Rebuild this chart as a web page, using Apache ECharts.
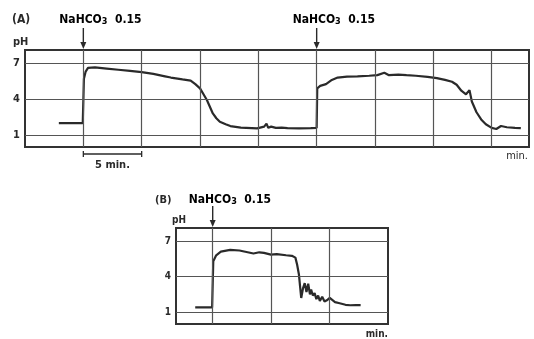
<!DOCTYPE html>
<html>
<head>
<meta charset="utf-8">
<script src="https://cdn.jsdelivr.net/npm/echarts@6/dist/echarts.min.js"></script>
<style>
html,body{margin:0;padding:0;background:#fff;}
#chart{width:534px;height:339px;}
</style>
</head>
<body>
<div id="chart"></div>
<script>
// (A) two NaHCO3 additions, time in min from the first addition
const timeA = [-2.1, -1, -0.05, 0.05, 0.2, 0.4, 1.0, 2.0, 3.0, 4.0, 5.0, 6.0, 7.0, 7.5, 8.5, 9.2, 9.6, 10.0, 10.3, 10.6, 11.1, 11.4, 11.7, 12.2, 12.6, 13.5, 14.9, 15.5, 15.7, 15.85, 16.1, 16.5, 17.0, 17.5, 18.5, 19.5, 20.0,
    20.05, 20.3, 20.8, 21.3, 21.8, 22.6, 23.5, 24.5, 25.2, 25.8, 26.2, 27.0, 27.7, 28.5, 29.5, 30.3, 31.0, 31.6, 32.0, 32.4, 32.8, 33.1, 33.3, 33.7, 34.1, 34.5, 35.0, 35.4, 35.8, 36.3, 37.0, 37.5];
const phA = [2.0, 2.0, 2.0, 5.7, 6.3, 6.6, 6.65, 6.55, 6.45, 6.35, 6.25, 6.1, 5.9, 5.8, 5.65, 5.55, 5.25, 4.9, 4.4, 3.9, 2.8, 2.4, 2.1, 1.9, 1.75, 1.62, 1.55, 1.7, 1.95, 1.6, 1.7, 1.6, 1.62, 1.58, 1.55, 1.57, 1.6,
    4.9, 5.1, 5.25, 5.6, 5.8, 5.88, 5.9, 5.95, 6.0, 6.2, 6.0, 6.05, 6.0, 5.95, 5.85, 5.75, 5.6, 5.45, 5.2, 4.7, 4.4, 4.75, 3.8, 2.9, 2.3, 1.9, 1.6, 1.5, 1.75, 1.65, 1.6, 1.58];

// (B) single addition
const timeB = [-1.5, -0.05, 0.05, 0.3, 0.7, 1.5, 2.3, 2.8, 3.5, 4.0, 4.4, 5.0, 5.5, 6.3, 6.8, 7.1, 7.25, 7.4, 7.5, 7.6, 7.75, 7.9, 8.05, 8.2, 8.35, 8.45, 8.6, 8.75, 8.9, 9.05, 9.2, 9.4, 9.6, 9.8, 10.05, 10.5, 10.9, 11.4, 11.8, 12.3, 12.7];
const phB = [1.4, 1.4, 5.3, 5.8, 6.1, 6.25, 6.2, 6.1, 5.95, 6.05, 6.0, 5.85, 5.9, 5.8, 5.75, 5.6, 5.0, 4.2, 3.2, 2.2, 3.0, 3.45, 2.7, 3.4, 2.5, 2.9, 2.4, 2.6, 2.1, 2.4, 1.95, 2.3, 1.9, 2.0, 2.2, 1.85, 1.75, 1.62, 1.58, 1.6, 1.6];

const injectA = [0, 20];
const injectB = [0];
const phTicks = [1, 4, 7];
const gridTimesA = [0, 5, 10, 15, 20, 25, 30, 35];
const gridTimesB = [0, 5, 10];
const addLabel = "NaHCO";
const addDose = "0.15";

const FONT = "'Liberation Sans Narrow', 'DejaVu Sans Condensed', sans-serif";
const INK = "#2a2a2a";

function zip(xs, ys){
    return xs.map((x, i) => [x, ys[i]]);
}

function gridMarks(times){
    return times.map(t => ({xAxis: t})).concat(phTicks.map(v => ({yAxis: v})));
}

function trace(idx, xs, ys, times){
    return {
        type: "line",
        xAxisIndex: idx,
        yAxisIndex: idx,
        data: zip(xs, ys),
        showSymbol: false,
        lineStyle: {color: INK, width: 2.2},
        markLine: {
            silent: true,
            symbol: "none",
            label: {show: false},
            lineStyle: {color: "#555", width: 1.2, type: "solid"},
            data: gridMarks(times)
        },
        z: 3
    };
}

function yAxisOf(idx, size){
    return {
        gridIndex: idx,
        type: "value",
        min: 0,
        max: 8.1,
        axisLine: {show: false},
        axisTick: {show: false},
        splitLine: {show: false},
        axisLabel: {
            customValues: phTicks,
            margin: 5,
            color: INK,
            fontFamily: FONT,
            fontWeight: "bold",
            fontSize: size
        }
    };
}

function xAxisOf(idx, min, max){
    return {
        gridIndex: idx,
        type: "value",
        min: min,
        max: max,
        axisLine: {show: false},
        axisTick: {show: false},
        axisLabel: {show: false},
        splitLine: {show: false}
    };
}

const chart = echarts.init(document.getElementById("chart"));

chart.setOption({
    animation: false,
    backgroundColor: "#fff",
    grid: [
        {left: 25, top: 50, width: 504, height: 97, show: true, borderColor: "#333", borderWidth: 2},
        {left: 176, top: 228, width: 212, height: 96, show: true, borderColor: "#333", borderWidth: 2}
    ],
    xAxis: [xAxisOf(0, -5, 38.2), xAxisOf(1, -3.15, 15.05)],
    yAxis: [yAxisOf(0, 11), yAxisOf(1, 10)],
    series: [
        trace(0, timeA, phA, gridTimesA),
        trace(1, timeB, phB, gridTimesB)
    ]
});

function txt(x, y, s, size, bold, align){
    return {
        type: "text",
        x: x, y: y,
        style: {
            text: s,
            fill: INK,
            font: (bold ? "bold " : "") + size + "px " + FONT,
            textAlign: align || "left",
            textVerticalAlign: "middle"
        }
    };
}

function doseLabel(x, y, size){
    return {
        type: "text",
        x: x, y: y,
        style: {
            text: "{a|" + addLabel + "}{s|3}{a|  " + addDose + "}",
            textVerticalAlign: "middle",
            rich: {
                a: {fontFamily: FONT, fontWeight: "bold", fontSize: size, color: INK},
                s: {fontFamily: FONT, fontWeight: "bold", fontSize: size - 3, color: INK, padding: [3, 0, 0, 0]}
            }
        }
    };
}

function arrow(x, yTop){
    return [
        {type: "line", shape: {x1: x, y1: yTop - 22, x2: x, y2: yTop - 4}, style: {stroke: INK, lineWidth: 1.4}},
        {type: "polygon", shape: {points: [[x - 3, yTop - 8], [x + 3, yTop - 8], [x, yTop - 1]]}, style: {fill: INK}}
    ];
}

const g = [];
const topA = chart.convertToPixel({gridIndex: 0}, [0, 8.1])[1];
const botA = chart.convertToPixel({gridIndex: 0}, [0, 0])[1];
const rightA = chart.convertToPixel({gridIndex: 0}, [38.2, 0])[0];
const topB = chart.convertToPixel({gridIndex: 1}, [0, 8.1])[1];
const botB = chart.convertToPixel({gridIndex: 1}, [0, 0])[1];
const rightB = chart.convertToPixel({gridIndex: 1}, [15.05, 0])[0];

injectA.forEach(t => {
    const x = chart.convertToPixel({gridIndex: 0}, [t, 0])[0];
    g.push(...arrow(x, topA));
    g.push(doseLabel(x - 24, topA - 30, 12));
});
injectB.forEach(t => {
    const x = chart.convertToPixel({gridIndex: 1}, [t, 0])[0];
    g.push(...arrow(x, topB));
    g.push(doseLabel(x - 24, topB - 28, 12));
});

g.push(txt(12, 20, "(A)", 12, true));
g.push(txt(13, 42, "pH", 11, true));
g.push(txt(rightA - 1, botA + 9, "min.", 11, false, "right"));

// 5 min scale bar under (A)
const s0 = chart.convertToPixel({gridIndex: 0}, [0, 0])[0];
const s5 = chart.convertToPixel({gridIndex: 0}, [5, 0])[0];
const by = botA + 7;
g.push({type: "line", shape: {x1: s0, y1: by, x2: s5, y2: by}, style: {stroke: INK, lineWidth: 1.3}});
g.push({type: "line", shape: {x1: s0, y1: by - 3, x2: s0, y2: by + 3}, style: {stroke: INK, lineWidth: 1.3}});
g.push({type: "line", shape: {x1: s5, y1: by - 3, x2: s5, y2: by + 3}, style: {stroke: INK, lineWidth: 1.3}});
g.push(txt((s0 + s5) / 2, by + 11, "5 min.", 11, true, "center"));

g.push(txt(155, 200, "(B)", 11, true));
g.push(txt(172, 220, "pH", 10, true));
g.push(txt(rightB, botB + 10, "min.", 10, true, "right"));

chart.setOption({graphic: g});
</script>
</body>
</html>
